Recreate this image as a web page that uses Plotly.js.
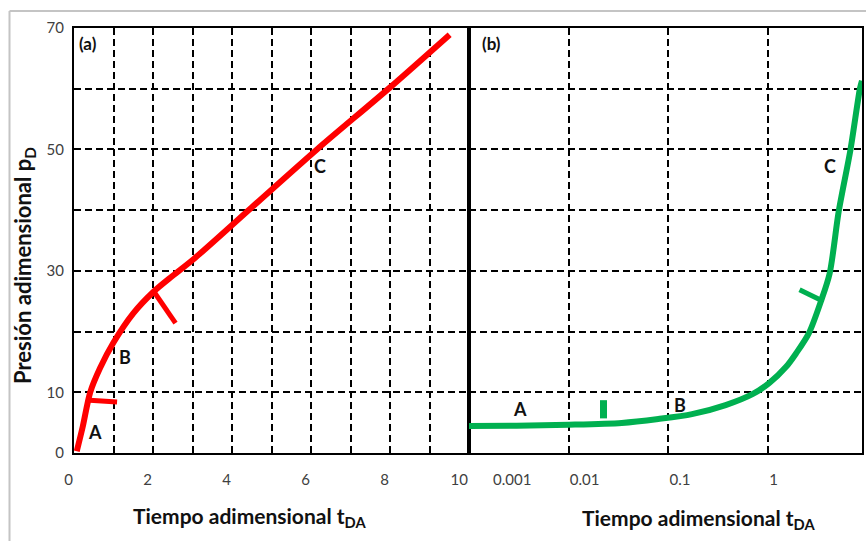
<!DOCTYPE html>
<html><head><meta charset="utf-8">
<script src="https://cdn.plot.ly/plotly-3.0.1.min.js"></script>
<style>html,body{margin:0;padding:0;background:#fff}</style>
</head><body><div id="chart" style="width:866px;height:541px"></div>
<script>
// ---------- Panel (a): linear time ----------
const curveA_t = [0.07, 0.22, 0.41, 0.66, 1.0, 1.5, 2.02, 2.5, 3.04, 4.49, 6.15, 7.98, 9.51];
const curveA_p = [0.3, 4.3, 10.0, 14.0, 18.2, 23.0, 26.6, 29.2, 32.0, 40.4, 50.0, 60.1, 68.9];
const hookA1_t = [0.40, 1.09];
const hookA1_p = [8.7, 8.4];
const hookA2_t = [2.02, 2.57];
const hookA2_p = [26.6, 21.4];
const xTicksA = [0, 2, 4, 6, 8, 10];
const xTextA = ["0", "2", "4", "6", "8", "10"];
const xMinorA = [1, 3, 5, 7, 9];

// ---------- Panel (b): log time ----------
const curveB_t = [0.001, 0.003, 0.01, 0.034, 0.079, 0.172, 0.374, 0.695, 1.02, 1.51, 1.9, 2.55, 3.41, 4.13, 5.09, 6.68, 8.3, 8.7];
const curveB_p = [4.45, 4.5, 4.65, 4.95, 5.6, 6.4, 7.9, 9.7, 11.5, 14.2, 16.4, 19.7, 25.2, 29.6, 39.8, 50.0, 60.0, 61.3];
const tickB1_t = [0.0223, 0.0223];
const tickB1_p = [5.7, 8.7];
const tickB2_t = [2.06, 3.35];
const tickB2_p = [26.9, 25.2];
const xTicksB = [0.001, 0.01, 0.1, 1];
const xTextB = ["\u00a0".repeat(6) + "0.001", "0.01", "0.1", "1"];

// ---------- Shared y ----------
const yTicks = [0, 10, 30, 50, 70];
const yText = ["0", "10", "30", "50", "70"];
const yMinor = [20, 40, 60];

// ---------- Point labels ----------
const labelsA = [["A",0.54,3.5],["B",1.30,15.8],["C",6.23,47.3]];
const labelsB = [["A",0.00325,7.3],["B",0.131,7.9],["C",4.13,47.3]];

const RED = '#ff0000', GREEN = '#00b050';
const FONT = 'Lato, "Open Sans", sans-serif';

const traces = [
  {x: curveA_t, y: curveA_p, xaxis:'x', yaxis:'y', mode:'lines', line:{color:RED, width:6, shape:'spline', smoothing:0.8}},
  {x: hookA1_t, y: hookA1_p, xaxis:'x', yaxis:'y', mode:'lines', line:{color:RED, width:5}},
  {x: hookA2_t, y: hookA2_p, xaxis:'x', yaxis:'y', mode:'lines', line:{color:RED, width:5}},
  {x: curveB_t, y: curveB_p, xaxis:'x2', yaxis:'y2', mode:'lines', line:{color:GREEN, width:6, shape:'spline', smoothing:0.8}},
  {x: tickB1_t, y: tickB1_p, xaxis:'x2', yaxis:'y2', mode:'lines', line:{color:GREEN, width:7}},
  {x: tickB2_t, y: tickB2_p, xaxis:'x2', yaxis:'y2', mode:'lines', line:{color:GREEN, width:5}}
];

const DASH = '7px,4px';
const grid = {showgrid:true, gridcolor:'#000', gridwidth:2, griddash:DASH, zeroline:false,
  showline:true, linecolor:'#000', linewidth:2, mirror:true, ticks:'', tickangle:0,
  tickfont:{family:FONT, size:15, color:'#404040'}};
const minorGrid = vals => ({tickmode:'array', tickvals:vals, showgrid:true, gridcolor:'#000', gridwidth:2, griddash:DASH, ticks:''});

const split = (469-74)/788;
const lab = {family:FONT, size:18, color:'#111', weight:'bold'};

const annotations = [];
labelsA.forEach(l => annotations.push({text:l[0], x:l[1], y:l[2], xref:'x', yref:'y', showarrow:false,
  xanchor:'center', yanchor:'middle', font:lab}));
labelsB.forEach(l => annotations.push({text:l[0], x:Math.log10(l[1]), y:l[2], xref:'x2', yref:'y2', showarrow:false,
  xanchor:'center', yanchor:'middle', font:lab}));
annotations.push({text:'(a)', x:0.36, y:67.4, xref:'x', yref:'y', showarrow:false, xanchor:'center', yanchor:'middle',
  font:{family:FONT, size:17, color:'#111', weight:'bold'}});
annotations.push({text:'(b)', x:Math.log10(0.0017), y:67.4, xref:'x2', yref:'y2', showarrow:false, xanchor:'center', yanchor:'middle',
  font:{family:FONT, size:17, color:'#111', weight:'bold'}});
const titleFont = {family:FONT, size:21, color:'#111', weight:'bold'};
annotations.push({text:'Tiempo adimensional t<sub>DA</sub>', x:(249-74)/788, y:(453-517)/425, xref:'paper', yref:'paper', showarrow:false,
  xanchor:'center', yanchor:'middle', font:titleFont});
annotations.push({text:'Tiempo adimensional t<sub>DA</sub>', x:(698-74)/788, y:(453-519)/425, xref:'paper', yref:'paper', showarrow:false,
  xanchor:'center', yanchor:'middle', font:titleFont});
annotations.push({text:'Presión adimensional p<sub>D</sub>', x:(24-74)/788, y:(453-266)/425, xref:'paper', yref:'paper', showarrow:false, textangle:-90,
  xanchor:'center', yanchor:'middle', font:{family:FONT, size:22, color:'#111', weight:'bold'}});

const layout = {
  width:866, height:541,
  margin:{l:74, r:4, t:28, b:88},
  paper_bgcolor:'#fff', plot_bgcolor:'#fff',
  showlegend:false,
  xaxis: Object.assign({}, grid, {domain:[0, split], range:[0, 10], tickmode:'array', tickvals:xTicksA, ticktext:xTextA,
    ticklabelstandoff:12, ticklabelposition:'outside left', minor:minorGrid(xMinorA)}),
  xaxis2: Object.assign({}, grid, {domain:[split, 1], type:'log', range:[-3.0, 0.94], tickmode:'array', tickvals:xTicksB, ticktext:xTextB,
    ticklabelstandoff:12, ticklabelposition:'outside right', anchor:'y2'}),
  yaxis: Object.assign({}, grid, {range:[0,70], tickmode:'array', tickvals:yTicks, ticktext:yText, ticklabelstandoff:5, minor:minorGrid(yMinor)}),
  yaxis2: Object.assign({}, grid, {range:[0,70], tickmode:'array', tickvals:yTicks, showticklabels:false, anchor:'x2', matches:'y', minor:minorGrid(yMinor)}),
  annotations: annotations,
  shapes: [
    {type:'line', xref:'paper', yref:'paper', x0:(9.5-74)/788, x1:1.02, y0:(453-11)/425, y1:(453-11)/425, line:{color:'#c4c4c4', width:2}},
    {type:'line', xref:'paper', yref:'paper', x0:(9.5-74)/788, x1:(9.5-74)/788, y0:(453-11)/425, y1:-0.25, line:{color:'#c4c4c4', width:2}}
  ]
};

Plotly.newPlot('chart', traces, layout, {staticPlot:true, displayModeBar:false});
</script>
</body></html>
